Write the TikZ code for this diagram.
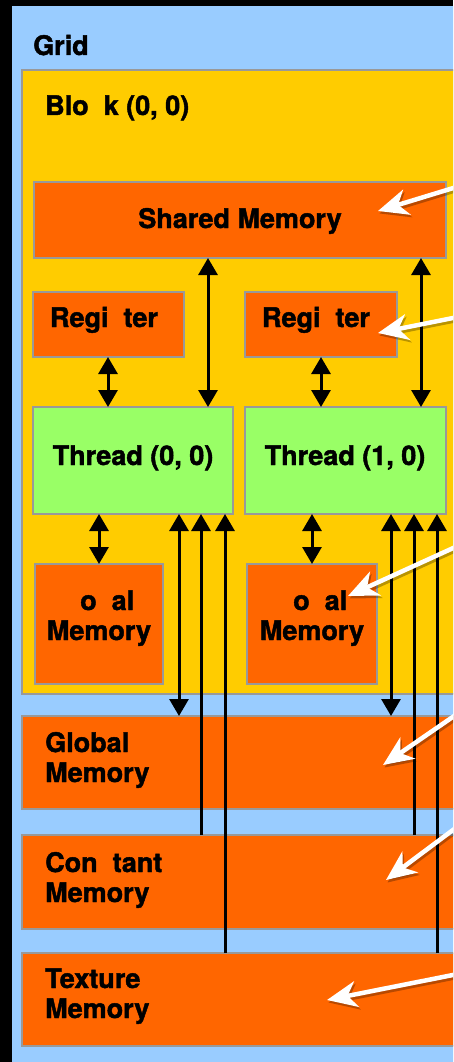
\documentclass[tikz,border=0pt]{standalone}
\usepackage{fontspec}
\setmainfont{TeX Gyre Heros}[BoldFeatures={FakeBold=1.6}]
\usetikzlibrary{arrows.meta,calc}
\definecolor{gridblue}{HTML}{99CCFF}
\definecolor{blockyel}{HTML}{FFCC00}
\definecolor{memorange}{HTML}{FF6600}
\definecolor{thrgreen}{HTML}{99FF66}
\definecolor{edgegray}{HTML}{999999}
\newcommand{\lineleft}[2]{\begin{tabular}[t]{@{}l@{}}#1\\#2\end{tabular}}
\newcommand{\linecenter}[2]{\begin{tabular}[t]{@{}c@{}}#1\\#2\end{tabular}}
\begin{document}
\begin{tikzpicture}[x=1pt,y=-1pt,
  box/.style={draw=edgegray, line width=1.5pt, inner sep=0pt, outer sep=0pt, anchor=north west},
  membox/.style={box, fill=memorange},
  thrbox/.style={box, fill=thrgreen},
  blockbox/.style={box, fill=blockyel},
  lbl/.style={font=\fontsize{27}{30}\selectfont\bfseries, inner sep=0pt, text=black},
  tipblk/.tip={Triangle[width=19pt,length=17pt]},
  dblar/.style={line width=3pt, black, tipblk-tipblk},
  upar/.style={line width=3pt, black, -tipblk},
  tipwht/.tip={Stealth[length=30pt,width=26pt,inset=9pt]},
  warrow/.style={line width=4.5pt, white, -tipwht},
  wshadow/.style={line width=4.5pt, black, opacity=0.28, -tipwht, transform canvas={shift={(1.5pt,-2.5pt)}}}
]
\useasboundingbox (0,0) rectangle (453,1062);
\clip (0,0) rectangle (453,1062);
\fill[black] (0,0) rectangle (453,1062);
\fill[gridblue] (12,6) rectangle (490,1090);

\node[lbl, anchor=base west] (tgrid) at (33,55) {Grid};

% block
\node[blockbox, minimum width=470pt, minimum height=624pt] (block) at (22,70) {};
\node[lbl, anchor=base west] (tblock) at (45,115) {Blo\phantom{c}k (0, 0)};

% shared memory
\node[membox, minimum width=412pt, minimum height=76pt] (shared) at (34,182) {};
\node[lbl, anchor=base] (tshared) at (240,228) {Shared Memory};

% registers
\node[membox, minimum width=151pt, minimum height=65pt] (reg0) at (33,292) {};
\node[membox, minimum width=152pt, minimum height=65pt] (reg1) at (245,292) {};
\node[lbl, anchor=base] (treg0) at (104,327) {Regi\phantom{s}ter};
\node[lbl, anchor=base] (treg1) at (316,327) {Regi\phantom{s}ter};

% threads
\node[thrbox, minimum width=200pt, minimum height=107pt] (thr0) at (33,407) {};
\node[thrbox, minimum width=201pt, minimum height=107pt] (thr1) at (245,407) {};
\node[lbl, anchor=base] (tthr0) at (133,465) {Thread (0, 0)};
\node[lbl, anchor=base] (tthr1) at (345,465) {Thread (1, 0)};

% local memories
\node[membox, minimum width=128pt, minimum height=120pt] (loc0) at (35,564) {};
\node[membox, minimum width=130pt, minimum height=120pt] (loc1) at (247,564) {};
\node[lbl, anchor=base] (tloc0) at (99,610) {\linecenter{\phantom{L}o\phantom{c}al}{Memory}};
\node[lbl, anchor=base] (tloc1) at (312,610) {\linecenter{\phantom{L}o\phantom{c}al}{Memory}};

% global, constant, texture
\node[membox, minimum width=470pt, minimum height=93pt] (gmem) at (22,716) {};
\node[membox, minimum width=470pt, minimum height=94pt] (cmem) at (22,835) {};
\node[membox, minimum width=470pt, minimum height=93pt] (xmem) at (22,953) {};
\node[lbl, anchor=base west] (tgmem) at (45,752) {\lineleft{Global}{Memory}};
\node[lbl, anchor=base west] (tcmem) at (45,872) {\lineleft{Con\phantom{s}tant}{Memory}};
\node[lbl, anchor=base west] (txmem) at (45,988) {\lineleft{Texture}{Memory}};

% black connectors
\draw[dblar] (208,0 |- shared.south) -- (208,0 |- thr0.north);
\draw[dblar] (421,0 |- shared.south) -- (421,0 |- thr1.north);
\draw[dblar] (108,0 |- reg0.south) -- (108,0 |- thr0.north);
\draw[dblar] (321,0 |- reg1.south) -- (321,0 |- thr1.north);
\draw[dblar] (99,0 |- thr0.south) -- (99,0 |- loc0.north);
\draw[dblar] (312,0 |- thr1.south) -- (312,0 |- loc1.north);

\draw[dblar] (179,0 |- thr0.south) -- (179,0 |- gmem.north);
\draw[upar] (201,0 |- cmem.north) -- (201,0 |- thr0.south);
\draw[upar] (225,0 |- xmem.north) -- (225,0 |- thr0.south);
\draw[dblar] (391,0 |- thr1.south) -- (391,0 |- gmem.north);
\draw[upar] (414,0 |- cmem.north) -- (414,0 |- thr1.south);
\draw[upar] (437,0 |- xmem.north) -- (437,0 |- thr1.south);

% white pointers from the right
\coordinate (pshared) at (473,182);
\coordinate (preg) at (473,314);
\coordinate (ploc) at (473,539);
\coordinate (pglob) at (473,703);
\coordinate (pcons) at (473,815);
\coordinate (ptex) at (473,971);

\draw[wshadow] (pshared) -- ($(shared.east)+(-68,-9)$);
\draw[wshadow] (preg) -- ($(reg1.east)+(-19,8.5)$);
\draw[wshadow] (ploc) -- ($(loc1.east)+(-29,-28)$);
\draw[wshadow] (pglob) -- ($(gmem.north west)+(361,49)$);
\draw[wshadow] (pcons) -- ($(cmem.north west)+(364,45)$);
\draw[wshadow] (ptex) -- ($(xmem.north west)+(305,47)$);

\draw[warrow] (pshared) -- ($(shared.east)+(-68,-9)$);
\draw[warrow] (preg) -- ($(reg1.east)+(-19,8.5)$);
\draw[warrow] (ploc) -- ($(loc1.east)+(-29,-28)$);
\draw[warrow] (pglob) -- ($(gmem.north west)+(361,49)$);
\draw[warrow] (pcons) -- ($(cmem.north west)+(364,45)$);
\draw[warrow] (ptex) -- ($(xmem.north west)+(305,47)$);
\end{tikzpicture}
\end{document}
